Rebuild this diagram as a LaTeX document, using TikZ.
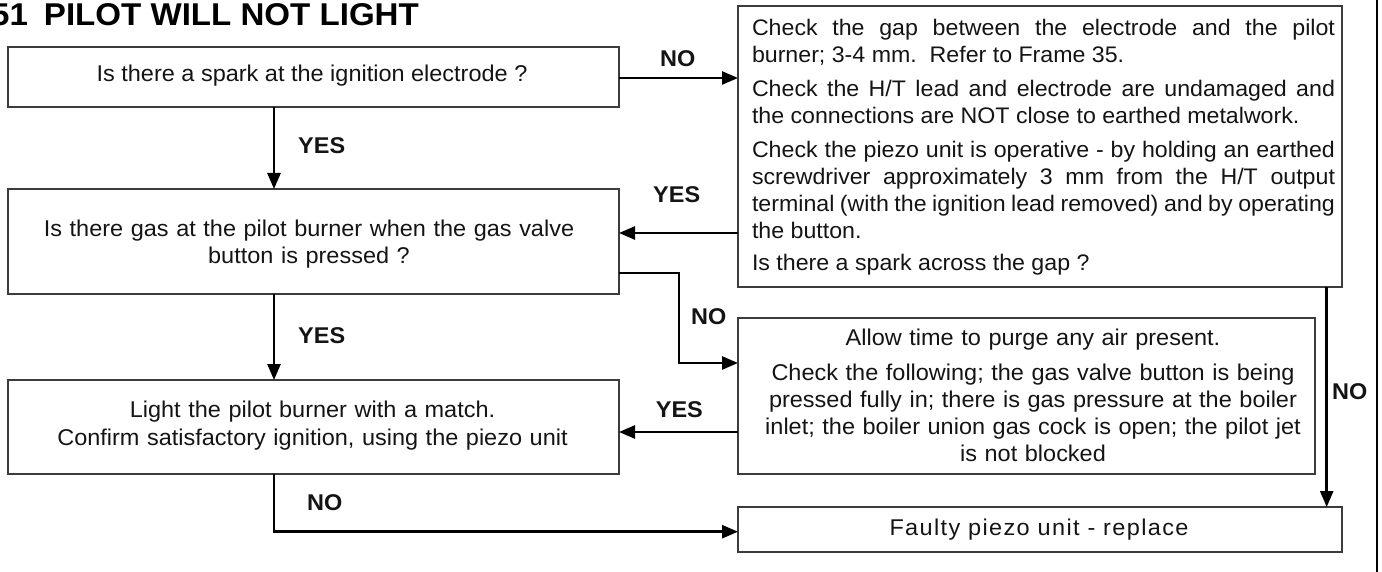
\documentclass[tikz,border=0pt]{standalone}
\usepackage{fontspec}
\setmainfont{Liberation Sans}[FakeStretch=1.03]
\newfontfamily\titlefont{Liberation Sans}[FakeStretch=1.05]
\usetikzlibrary{arrows.meta}
\definecolor{ink}{HTML}{141414}
\definecolor{boxgray}{HTML}{3C3C3C}
\hyphenpenalty=10000
\exhyphenpenalty=10000
\tolerance=10000
\tikzset{
  box/.style={draw=boxgray, line width=1.6pt, inner sep=0pt, outer sep=0pt, anchor=north west},
  txt/.style={inner sep=0pt, outer sep=0pt, text=ink, font=\fontsize{22.8}{27}\selectfont},
  lbl/.style={inner sep=0pt, anchor=base west, text=ink, font=\bfseries\fontsize{22.8}{27}\selectfont},
  arr/.style={line width=2.6pt, draw=black, -{Triangle[length=16pt,width=13pt]}},
}
\begin{document}
\begin{tikzpicture}[x=1pt,y=-1pt]
\useasboundingbox (0,0) rectangle (1382,572);
% title
\node[inner sep=0pt, anchor=base west, font=\titlefont\bfseries\fontsize{31.5}{34}\selectfont] (title) at (-9,26) {51\hspace{16pt}PILOT WILL NOT LIGHT};
% boxes
\node[box, minimum width=611pt, minimum height=60pt] (b1) at (8,47) {};
\node[box, minimum width=611pt, minimum height=105pt] (b2) at (8,189) {};
\node[box, minimum width=611pt, minimum height=94pt] (b3) at (8,380) {};
\node[box, minimum width=604pt, minimum height=281pt] (rb) at (738,6) {};
\node[box, minimum width=577pt, minimum height=156pt] (mb) at (738,318) {};
\node[box, minimum width=604pt, minimum height=45pt] (fb) at (738,507) {};
% texts
\node[txt, anchor=base] (t1) at (312,82) {Is there a spark at the ignition electrode ?};
\node[txt, anchor=base, text width=560pt, align=center, font=\fontsize{22.8}{26.5}\selectfont] (t2) at (309,237) {Is there gas at the pilot burner when the gas valve\\ button is pressed ?};
\node[txt, anchor=base, text width=580pt, align=center, font=\fontsize{22.8}{27.5}\selectfont] (t3) at (312.5,417.5) {Light the pilot burner with a match.\\ Confirm satisfactory ignition, using the piezo unit};
\node[txt, anchor=base west, text width=583pt, align=justify, font=\fontsize{22.5}{27}\selectfont] (rt) at (752,36) {Check the gap between the electrode and the pilot\linebreak burner; 3-4 mm.\ \ Refer to Frame 35.\par\vspace{6.8pt}%
Check the H/T lead and electrode are undamaged and\linebreak the connections are NOT close to earthed metalwork.\par\vspace{6.3pt}%
Check the piezo unit is operative - by holding an earthed\linebreak screwdriver approximately 3 mm from the H/T output\linebreak terminal (with the ignition lead removed) and by operating\linebreak the button.\par\vspace{5.5pt}%
Is there a spark across the gap ?};
\node[txt, anchor=base, text width=570pt, align=center] (mt) at (1033,345) {Allow time to purge any air present.\\[8pt]
Check the following; the gas valve button is being\\ pressed fully in; there is gas pressure at the boiler\\ inlet; the boiler union gas cock is open; the pilot jet\\ is not blocked};
\node[txt, anchor=base, font=\fontsize{22.8}{27}\selectfont\addfontfeature{LetterSpace=6}] (ft) at (1039,535) {Faulty piezo unit - replace};
% helper coordinates
\coordinate (xa) at (274,0);
\coordinate (xb) at (679,0);
\coordinate (xc) at (1326.7,0);
\coordinate (y1) at (0,78);
\coordinate (y2) at (0,233);
\coordinate (y3) at (0,273);
\coordinate (y4) at (0,363);
\coordinate (y5) at (0,432);
\coordinate (y6) at (0,531.7);
% connectors
\draw[arr] (b1.east |- y1) -- (rb.west |- y1);
\draw[arr] (rb.west |- y2) -- (b2.east |- y2);
\draw[arr] (b1.south -| xa) -- (b2.north -| xa);
\draw[arr] (b2.east |- y3) -| (xb |- y4) -- (mb.west |- y4);
\draw[arr] (mb.west |- y5) -- (b3.east |- y5);
\draw[arr] (b2.south -| xa) -- (b3.north -| xa);
\draw[arr] (b3.south -| xa) |- (fb.west |- y6);
\draw[arr] (rb.south -| xc) -- (fb.north -| xc);
% labels
\node[lbl] (n1) at (660,66.7) {NO};
\node[lbl] (y1l) at (298,153.3) {YES};
\node[lbl] (y2l) at (653,202.7) {YES};
\node[lbl] (n2) at (691,324.3) {NO};
\node[lbl] (y3l) at (298,343.3) {YES};
\node[lbl] (y4l) at (655.7,417.7) {YES};
\node[lbl] (n3) at (307,510.7) {NO};
\node[lbl] (n4) at (1332,399.3) {NO};
% right frame edge
\draw[line width=2pt, black] (1377,0) -- (1377,572);
\end{tikzpicture}
\end{document}
